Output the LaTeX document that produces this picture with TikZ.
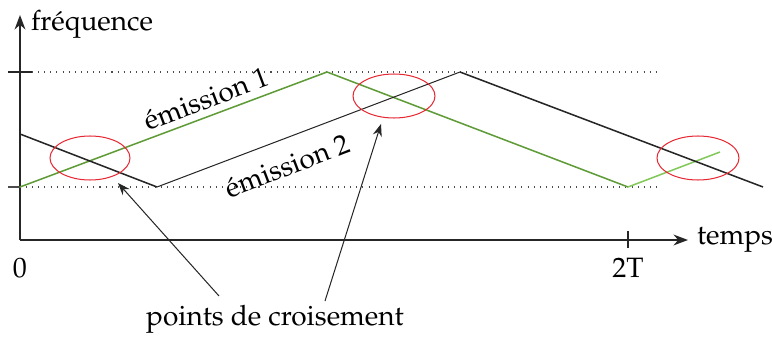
\documentclass[tikz,border=0pt]{standalone}
\usepackage[T1]{fontenc}
\usepackage{mathpazo}
\usetikzlibrary{arrows.meta}
\definecolor{vert}{RGB}{95,155,55}
\definecolor{vertclair}{RGB}{130,200,90}
\definecolor{rouge}{RGB}{230,40,50}
\begin{document}
\begin{tikzpicture}[
    x=0.0138cm, y=0.0138cm,
    font=\fontsize{11}{13}\selectfont,
    axe/.style={->,>=Stealth,draw=black!85,semithick},
    grille/.style={dotted,draw=black!70,thin},
    em1/.style={draw=vert,semithick},
    em2/.style={draw=black!85,thin},
    croix/.style={draw=rouge,thin},
    fleche/.style={->,>=Stealth,draw=black!85,thin}
]
    \useasboundingbox (0,0) rectangle (772,336);

    % axes
    \coordinate (o) at (20,96);
    \coordinate (ytop) at (20,321);
    \coordinate (xend) at (688,96);
    \draw[axe] (o) -- (ytop);
    \draw[axe] (o) -- (xend);
    \node[anchor=west,inner sep=1pt] (freq) at (28,312) {fréquence};
    \node[anchor=west,inner sep=1pt] (temps) at (694,96) {temps};
    \node (zero) at (20,68) {0};
    \node (deuxT) at (628,68) {2T};
    \draw[black!85,thin] (628,88) -- (628,105);

    % niveaux
    \draw[black!85,thin] (8,264) -- (32,264);
    \draw[black!70,thin] (8,149) -- (20,149);
    \draw[grille] (32,264) -- (660,264);
    \draw[grille] (20,149) -- (660,149);

    % emission 1
    \coordinate (g0) at (20,149);
    \coordinate (g1) at (327,264);
    \coordinate (g2) at (628,149);
    \coordinate (g3) at (720,184);
    \draw[em1] (g0) -- (g1) -- (g2);
    \draw[vertclair,semithick] (g2) -- (g3);

    % emission 2
    \coordinate (b0) at (20,202);
    \coordinate (b1) at (157,149);
    \coordinate (b2) at (460,264);
    \coordinate (b3) at (763,149);
    \draw[em2,semithick] (b0) -- (b1);
    \draw[em2] (b1) -- (b2);
    \draw[em2,semithick] (b2) -- (b3);

    \node[rotate=20.5] (lab1) at (206,237) {émission 1};
    \node[rotate=20.8] (lab2) at (287,170) {émission 2};

    % croisements
    \draw[croix] (90,178) ellipse (40 and 22);
    \draw[croix] (394,240) ellipse (41 and 22);
    \draw[croix] (698,178) ellipse (41 and 22);

    \node (pts) at (275,17) {points de croisement};
    \coordinate (c1) at (118,153);
    \coordinate (c2) at (381,212);
    \draw[fleche] (219,40) -- (c1);
    \draw[fleche] (325,35) -- (c2);
\end{tikzpicture}
\end{document}
